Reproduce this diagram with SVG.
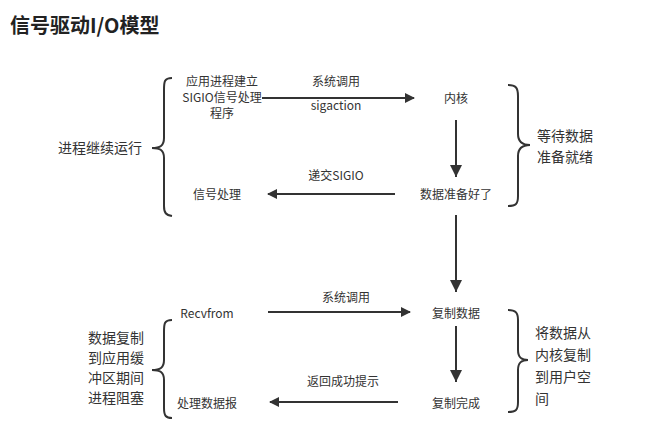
<svg xmlns="http://www.w3.org/2000/svg" width="647" height="433" viewBox="0 0 647 433">
<style>
text{font-family:"Noto Sans CJK SC","Liberation Sans",sans-serif;fill:#333;font-size:12px}
.c{text-anchor:middle}
.b{font-size:14px}
.br{fill:none;stroke:#333;stroke-width:2}
.ln{stroke:#333;stroke-width:2;fill:none}
</style>
<defs><marker id="a" markerWidth="10" markerHeight="10" refX="9" refY="5" orient="auto" markerUnits="userSpaceOnUse"><path d="M0,0L10,5L0,10z" fill="#333"/></marker>
<marker id="d" markerWidth="12" markerHeight="12" refX="6" refY="12" orient="0" markerUnits="userSpaceOnUse"><path d="M0,0L12,0L6,12z" fill="#333"/></marker></defs>
<rect width="647" height="433" fill="#fff"/>
<text x="10" y="33" style="font-size:20px;font-weight:bold;fill:#222">信号驱动I/O模型</text>
<g id="braces">
<path class="br" d="M172,78C164,78 164,82 164,90V138C164,146 160,148 152,148C160,148 164,150 164,158V206C164,213 166,215 172,216"/>
<path class="br" d="M508,85C516,85 518,88 518,96V134C518,142 522,145 530,145C522,145 518,148 518,156V196C518,204 516,206 508,206"/>
<path class="br" d="M172,320C164,320 164,324 164,332V360C164,368 160,370 152,370C160,370 164,372 164,380V408C164,416 166,418 172,418"/>
<path class="br" d="M508,310C516,310 518,313 518,320V350C518,358 522,360 528,360C522,360 518,362 518,370V402C518,410 516,412 508,412"/>
</g>
<g id="n-left1"><text x="58" y="153" class="b">进程继续运行</text></g>
<g id="n-app"><text x="222" y="86" class="c">应用进程建立</text><text x="222" y="102" class="c">SIGIO信号处理</text><text x="222" y="118" class="c">程序</text></g>
<g id="n-kernel"><text x="456" y="103" class="c">内核</text></g>
<g id="n-ready"><text x="456" y="199" class="c">数据准备好了</text></g>
<g id="n-sig"><text x="217" y="199" class="c">信号处理</text></g>
<g id="n-wait"><text x="537" y="141" class="b">等待数据</text><text x="537" y="162" class="b">准备就绪</text></g>
<g id="n-recv"><text x="207" y="318" class="c">Recvfrom</text></g>
<g id="n-copy"><text x="456" y="318" class="c">复制数据</text></g>
<g id="n-done"><text x="456" y="408" class="c">复制完成</text></g>
<g id="n-proc"><text x="207" y="408" class="c">处理数据报</text></g>
<g id="n-left2"><text x="88" y="343" class="b">数据复制</text><text x="88" y="363" class="b">到应用缓</text><text x="88" y="383" class="b">冲区期间</text><text x="88" y="403" class="b">进程阻塞</text></g>
<g id="n-right2"><text x="535" y="338" class="b">将数据从</text><text x="535" y="360" class="b">内核复制</text><text x="535" y="382" class="b">到用户空</text><text x="535" y="404" class="b">间</text></g>
<g id="connectors">
<line class="ln" x1="262" y1="98" x2="414" y2="98" marker-end="url(#a)"/>
<text x="336" y="86" class="c">系统调用</text><text x="336" y="110" class="c">sigaction</text>
<line class="ln" x1="456" y1="120" x2="456" y2="177" marker-end="url(#d)"/>
<line class="ln" x1="395" y1="194" x2="268" y2="194" marker-end="url(#a)"/>
<text x="336" y="180" class="c">递交SIGIO</text>
<line class="ln" x1="456" y1="215" x2="456" y2="292" marker-end="url(#d)"/>
<line class="ln" x1="268" y1="312" x2="410" y2="312" marker-end="url(#a)"/>
<text x="346" y="302" class="c">系统调用</text>
<line class="ln" x1="456" y1="326" x2="456" y2="382" marker-end="url(#d)"/>
<line class="ln" x1="398" y1="402" x2="270" y2="402" marker-end="url(#a)"/>
<text x="343" y="386" class="c">返回成功提示</text>
</g>
</svg>
